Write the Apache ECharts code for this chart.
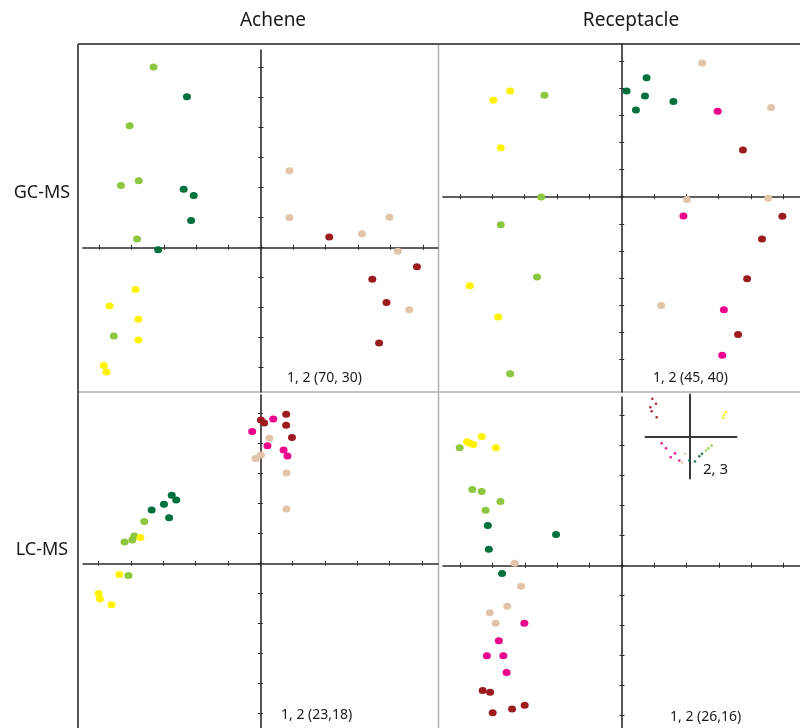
<!DOCTYPE html>
<html>
<head>
<meta charset="utf-8">
<script src="https://cdn.jsdelivr.net/npm/echarts@6/dist/echarts.min.js"></script>
<style>
  html, body { margin: 0; padding: 0; background: #fff; }
  #chart { width: 800px; height: 728px; }
</style>
</head>
<body>
<div id="chart"></div>
<script>
// Stage colours
const STAGE_COLORS = {
  lightGreen: '#8dc63f',
  darkGreen: '#00703c',
  yellow: '#fff200',
  tan: '#e2c4a8',
  pink: '#ec008c',
  darkRed: '#9b1b1f'
};

// Tick positions (score units)
const ticksX = [-5, -4, -3, -2, -1, 0, 1, 2, 3, 4, 5];
const ticksYGcAchene = [-4, -3, -2, -1, 0, 1, 2, 3, 4, 5, 6];
const ticksYGcReceptacle = [-6, -5, -4, -3, -2, -1, 0, 1, 2, 3, 4, 5];
const ticksYLc = [-5, -4, -3, -2, -1, 0, 1, 2, 3, 4, 5];

// GC-MS, achene: PC1 vs PC2 scores
const gcAcheneLightGreen = [[-3.32, 6.00], [-4.06, 4.04], [-4.33, 2.06], [-3.78, 2.21], [-3.83, 0.28], [-4.55, -2.95]];
const gcAcheneDarkGreen = [[-2.29, 5.01], [-2.39, 1.93], [-2.08, 1.72], [-2.16, 0.89], [-3.18, -0.08]];
const gcAcheneYellow = [[-3.88, -1.40], [-4.68, -1.95], [-3.79, -2.39], [-3.79, -3.08], [-4.86, -3.93], [-4.78, -4.15]];
const gcAcheneTan = [[0.88, 2.55], [0.88, 0.99], [3.97, 1.00], [3.12, 0.45], [4.23, -0.13], [4.58, -2.08]];
const gcAcheneDarkRed = [[2.11, 0.34], [4.82, -0.65], [3.44, -1.06], [3.88, -1.84], [3.65, -3.18]];

// GC-MS, receptacle: PC1 vs PC2 scores
const gcRecYellow = [[-3.45, 3.89], [-3.97, 3.55], [-3.74, 1.80], [-4.70, -3.28], [-3.82, -4.43]];
const gcRecLightGreen = [[-2.39, 3.73], [-2.49, -0.01], [-3.74, -1.03], [-2.62, -2.96], [-3.45, -6.52]];
const gcRecDarkGreen = [[0.77, 4.38], [0.15, 3.89], [0.72, 3.71], [0.44, 3.19], [1.60, 3.50]];
const gcRecTan = [[2.49, 4.92], [4.62, 3.28], [2.02, -0.10], [4.53, -0.06], [1.22, -4.01]];
const gcRecPink = [[2.97, 3.14], [1.91, -0.71], [3.16, -4.16], [3.11, -5.84]];
const gcRecDarkRed = [[3.75, 1.72], [4.97, -0.72], [4.34, -1.56], [3.88, -3.02], [3.60, -5.07]];

// LC-MS, achene: PC1 vs PC2 scores
const lcAcheneLightGreen = [[-3.59, 1.39], [-3.90, 0.91], [-3.96, 0.78], [-4.20, 0.71], [-4.08, -0.41]];
const lcAcheneYellow = [[-3.71, 0.86], [-4.36, -0.37], [-5.00, -1.01], [-4.96, -1.19], [-4.60, -1.38]];
const lcAcheneDarkGreen = [[-2.74, 2.27], [-2.60, 2.11], [-2.98, 1.97], [-3.36, 1.78], [-2.82, 1.52]];
const lcAcheneTan = [[0.28, 4.17], [0.02, 3.61], [-0.15, 3.49], [0.81, 3.01], [0.81, 1.81]];
const lcAchenePink = [[-0.25, 4.39], [0.40, 4.81], [0.22, 3.92], [0.72, 3.78], [0.84, 3.58]];
const lcAcheneDarkRed = [[0.02, 4.78], [0.12, 4.68], [0.80, 4.97], [0.80, 4.60], [0.98, 4.19]];

// LC-MS, receptacle: PC1 vs PC2 scores
const lcRecYellow = [[-4.79, 4.12], [-4.71, 4.07], [-4.60, 4.03], [-4.34, 4.29], [-3.90, 3.92]];
const lcRecLightGreen = [[-5.02, 3.92], [-4.63, 2.53], [-4.34, 2.46], [-3.76, 2.13], [-4.22, 1.84]];
const lcRecDarkGreen = [[-4.15, 1.33], [-2.04, 1.03], [-4.12, 0.54], [-3.71, -0.27]];
const lcRecTan = [[-3.32, 0.07], [-3.12, -0.70], [-3.55, -1.36], [-4.09, -1.58], [-3.91, -1.93]];
const lcRecPink = [[-3.02, -1.93], [-3.81, -2.51], [-4.18, -3.01], [-3.67, -3.01], [-3.57, -3.57]];
const lcRecDarkRed = [[-4.31, -4.17], [-4.08, -4.23], [-4.00, -4.91], [-3.40, -4.79], [-3.01, -4.66]];

// LC-MS, receptacle: PC2 vs PC3 scores (inset)
const lcRec23DarkRed = [[-37.7, 37.7], [-34.0, 32.7], [-39.7, 29.3], [-38.3, 25.3], [-33.3, 19.3]];
const lcRec23Pink = [[-28.3, -6.7], [-24.0, -11.7], [-19.3, -20.7], [-15.0, -16.7], [-10.7, -24.0]];
const lcRec23Tan = [[-5.0, -17.3], [-8.0, -26.0]];
const lcRec23DarkGreen = [[-0.7, -24.0], [5.0, -25.0], [9.3, -19.7], [12.0, -17.3]];
const lcRec23LightGreen = [[16.0, -14.0], [18.3, -11.7], [21.7, -9.0]];
const lcRec23Yellow = [[34.0, 21.7], [33.3, 18.7], [36.0, 24.3]];

// Panel text
const columnTitles = ['Achene', 'Receptacle'];
const rowTitles = ['GC-MS', 'LC-MS'];
const panelLabels = ['1, 2 (70, 30)', '1, 2 (45, 40)', '1, 2 (23,18)', '1, 2 (26,16)'];
const insetLabel = '2, 3';

const FONT = '"Noto Sans", "Open Sans", sans-serif';
const AXIS_COLOR = '#2b2b2b';

const panels = [
  {
    rect: { left: 83, top: 50, width: 355, height: 342 },
    x: [-5.502, 5.471], y: [-4.814, 6.564], yTicks: ticksYGcAchene,
    groups: [
      ['lightGreen', gcAcheneLightGreen], ['darkGreen', gcAcheneDarkGreen], ['yellow', gcAcheneYellow],
      ['tan', gcAcheneTan], ['darkRed', gcAcheneDarkRed]
    ]
  },
  {
    rect: { left: 443, top: 44, width: 357, height: 348 },
    x: [-5.527, 5.515], y: [-7.19, 5.62], yTicks: ticksYGcReceptacle,
    groups: [
      ['yellow', gcRecYellow], ['lightGreen', gcRecLightGreen], ['darkGreen', gcRecDarkGreen],
      ['tan', gcRecTan], ['pink', gcRecPink], ['darkRed', gcRecDarkRed]
    ]
  },
  {
    rect: { left: 83, top: 395, width: 355, height: 333 },
    x: [-5.484, 5.496], y: [-5.49, 5.61], yTicks: ticksYLc,
    groups: [
      ['lightGreen', lcAcheneLightGreen], ['yellow', lcAcheneYellow], ['darkGreen', lcAcheneDarkGreen],
      ['tan', lcAcheneTan], ['pink', lcAchenePink], ['darkRed', lcAcheneDarkRed]
    ]
  },
  {
    rect: { left: 443, top: 397, width: 357, height: 331 },
    x: [-5.537, 5.506], y: [-5.42, 5.61], yTicks: ticksYLc,
    groups: [
      ['lightGreen', lcRecLightGreen], ['yellow', lcRecYellow], ['darkGreen', lcRecDarkGreen],
      ['tan', lcRecTan], ['pink', lcRecPink], ['darkRed', lcRecDarkRed]
    ]
  }
];

const grid = [];
const xAxis = [];
const yAxis = [];
const series = [];

function valueAxis(gridIndex, range, ticks, position, showLine) {
  return {
    type: 'value',
    gridIndex: gridIndex,
    position: position,
    min: range[0],
    max: range[1],
    axisLine: { show: showLine, onZero: true, lineStyle: { color: AXIS_COLOR, width: 1.6 } },
    axisTick: { show: true, inside: false, length: 2.5, customValues: ticks, lineStyle: { color: AXIS_COLOR, width: 1 } },
    axisLabel: { show: false },
    splitLine: { show: false }
  };
}

panels.forEach(function (p, i) {
  grid.push(Object.assign({ containLabel: false }, p.rect));
  // Two axes per direction so that the ticks cross the axis line on both sides
  xAxis.push(valueAxis(i, p.x, ticksX, 'bottom', true));
  xAxis.push(valueAxis(i, p.x, ticksX, 'top', false));
  yAxis.push(valueAxis(i, p.y, p.yTicks, 'left', true));
  yAxis.push(valueAxis(i, p.y, p.yTicks, 'right', false));
  p.groups.forEach(function (g) {
    series.push({
      type: 'scatter',
      xAxisIndex: 2 * i,
      yAxisIndex: 2 * i,
      symbol: 'circle',
      symbolSize: [8, 7],
      itemStyle: { color: STAGE_COLORS[g[0]], opacity: 1 },
      data: g[1],
      silent: true
    });
  });
});

// Inset: PC2 vs PC3 of LC-MS receptacle
const insetIndex = panels.length;
grid.push({ left: 645.5, top: 394.5, width: 91, height: 84 });
xAxis.push({
  type: 'value', gridIndex: insetIndex, min: -44.5, max: 46.5,
  axisLine: { show: true, onZero: true, lineStyle: { color: '#3a3a3a', width: 2 } },
  axisTick: { show: false }, axisLabel: { show: false }, splitLine: { show: false }
});
yAxis.push({
  type: 'value', gridIndex: insetIndex, min: -42, max: 42,
  axisLine: { show: true, onZero: true, lineStyle: { color: '#3a3a3a', width: 2 } },
  axisTick: { show: false }, axisLabel: { show: false }, splitLine: { show: false }
});
[
  ['darkRed', lcRec23DarkRed], ['pink', lcRec23Pink], ['tan', lcRec23Tan],
  ['darkGreen', lcRec23DarkGreen], ['lightGreen', lcRec23LightGreen], ['yellow', lcRec23Yellow]
].forEach(function (g) {
  series.push({
    type: 'scatter',
    xAxisIndex: xAxis.length - 1,
    yAxisIndex: yAxis.length - 1,
    symbol: 'circle',
    symbolSize: 2.6,
    itemStyle: { color: STAGE_COLORS[g[0]], opacity: 0.9 },
    data: g[1],
    silent: true
  });
});

function textEl(text, x, y, size, align) {
  return {
    type: 'text', x: x, y: y, silent: true,
    style: { text: text, fill: '#1a1a1a', font: size + 'px ' + FONT, textAlign: align || 'left', textVerticalAlign: 'middle' }
  };
}
function lineEl(x1, y1, x2, y2, color, width) {
  return { type: 'line', silent: true, shape: { x1: x1, y1: y1, x2: x2, y2: y2 }, style: { stroke: color, lineWidth: width } };
}

const graphic = [
  // panel frame
  lineEl(78, 44, 800, 44, '#555', 2),
  lineEl(78, 44, 78, 728, '#555', 2),
  lineEl(438.5, 45, 438.5, 728, '#b0b0b0', 1.5),
  lineEl(79, 392, 800, 392, '#b0b0b0', 1.5),
  // headings
  textEl(columnTitles[0], 273, 21, 19, 'center'),
  textEl(columnTitles[1], 631, 21, 19, 'center'),
  textEl(rowTitles[0], 42, 193, 18, 'center'),
  textEl(rowTitles[1], 42, 550, 18, 'center'),
  // component labels
  textEl(panelLabels[0], 287, 378, 14),
  textEl(panelLabels[1], 653, 378, 14),
  textEl(panelLabels[2], 281, 715, 14),
  textEl(panelLabels[3], 670, 717, 14),
  textEl(insetLabel, 703, 470, 15)
];

const chart = echarts.init(document.getElementById('chart'), null, { renderer: 'canvas' });
chart.setOption({
  backgroundColor: '#ffffff',
  animation: false,
  grid: grid,
  xAxis: xAxis,
  yAxis: yAxis,
  series: series,
  graphic: graphic
});
</script>
</body>
</html>
